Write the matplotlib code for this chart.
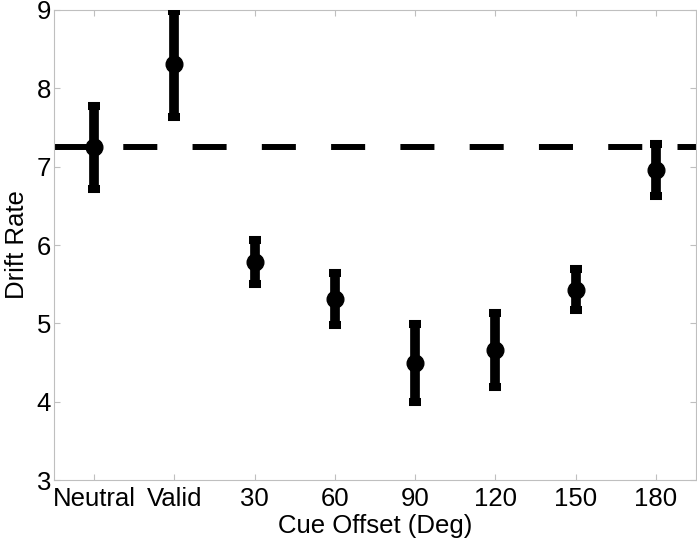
import numpy as np
import matplotlib
matplotlib.use("Agg")
import matplotlib.pyplot as plt

plt.rcParams['font.family'] = ['Liberation Sans', 'DejaVu Sans']

conditions = ['Neutral', 'Valid', '30', '60', '90', '120', '150', '180']
drift = [7.25, 8.31, 5.78, 5.31, 4.49, 4.66, 5.43, 6.96]
err = [0.53, 0.68, 0.28, 0.33, 0.50, 0.47, 0.26, 0.33]
neutral_level = 7.25

x = np.arange(1, len(conditions) + 1)

fig = plt.figure(figsize=(6.97, 5.43), dpi=100)
ax = fig.add_axes([0.0775, 0.116, 0.921, 0.8656])

ax.plot([0.5, 8.5], [neutral_level, neutral_level], color='black', lw=4.3,
        dashes=(5.7, 5.9), solid_capstyle='butt', dash_capstyle='butt', zorder=1)

ax.errorbar(x, drift, yerr=err, fmt='o', color='black', ms=12,
            elinewidth=7.0, capsize=4.4, capthick=5.8, zorder=3)

ax.set_xlim(0.5, 8.5)
ax.set_ylim(3, 9)
ax.set_xticks(x)
ax.set_xticklabels(conditions)
ax.set_yticks(np.arange(3, 10, 1))

for s in ax.spines.values():
    s.set_color('#bfbfbf')
    s.set_linewidth(0.8)
ax.tick_params(direction='in', length=4, color='#bfbfbf', labelsize=18.5,
               top=True, right=True, pad=2)
ax.tick_params(axis='x', pad=5)

ax.set_xlabel('Cue Offset (Deg)', fontsize=18.5, labelpad=2)
ax.set_ylabel('Drift Rate', fontsize=18.5, labelpad=6)

fig.savefig('out.png', dpi=100)
